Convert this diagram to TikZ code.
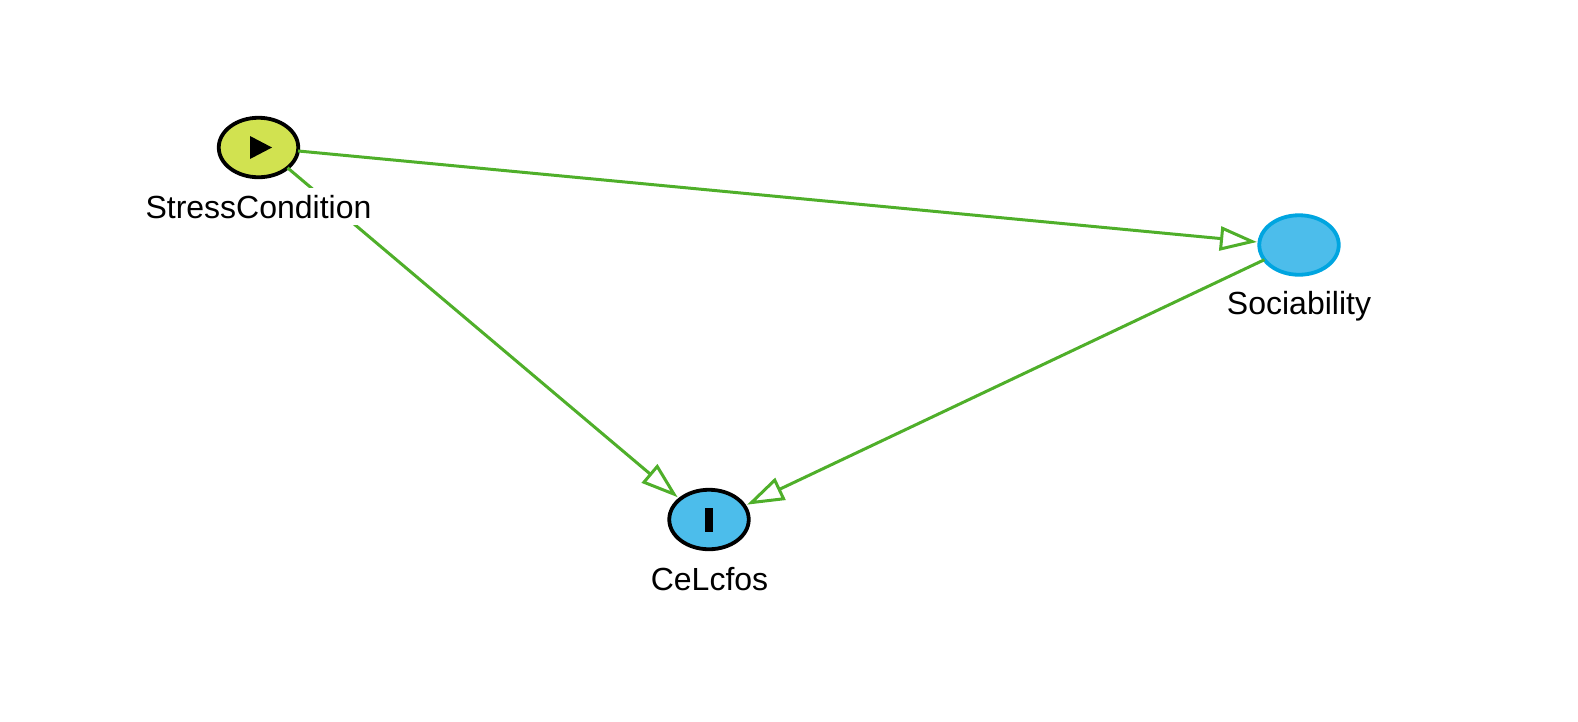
\documentclass[tikz,border=0pt]{standalone}
\usepackage{fontspec}
\setmainfont{Liberation Sans}
\usetikzlibrary{shapes.geometric,arrows.meta}
\definecolor{edgegreen}{HTML}{4FAF2A}
\definecolor{limefill}{HTML}{D1E250}
\definecolor{bluefill}{HTML}{4CBDEB}
\definecolor{blueline}{HTML}{00A5E0}
\tikzset{
  var/.style={ellipse,draw=black,line width=3.8pt,inner sep=0pt,outer sep=0pt,minimum width=79.5pt,minimum height=59.5pt},
  lbl/.style={anchor=base,fill=white,inner sep=0pt,text height=30pt,text depth=7pt,font=\fontsize{32pt}{36pt}\selectfont},
  link/.style={draw=edgegreen,line width=3pt,-{Triangle[length=37pt,width=24pt,fill=white]}},
  x=1pt,y=-1pt
}
\begin{document}
\begin{tikzpicture}
\useasboundingbox (0,0) rectangle (1578,721);
\node[var,fill=limefill] (stress) at (258.5,147.5) {};
\node[var,fill=bluefill] (cel) at (709,519.5) {};
\node[var,fill=bluefill,draw=blueline] (soc) at (1299,245) {};
\draw[link,shorten >=2.5pt] (stress.-5) -- (soc.176);
\draw[link,shorten >=3pt] (stress.-35.6) -- (cel.145);
\draw[link,shorten >=3pt] (soc.203.4) -- (cel.21);
\node[lbl] (stresslabel) at (258.5,218) {StressCondition};
\node[lbl] (cellabel) at (709.5,590) {CeLcfos};
\node[lbl,fill=none] (soclabel) at (1299,314.5) {Sociability};
\fill ([shift={(-8.5,-11.5)}]stress.center) -- ([shift={(13.5,0)}]stress.center) -- ([shift={(-8.5,11.5)}]stress.center) -- cycle;
\fill ([shift={(-4.2,-12)}]cel.center) rectangle ([shift={(4.2,12)}]cel.center);
\end{tikzpicture}
\end{document}
